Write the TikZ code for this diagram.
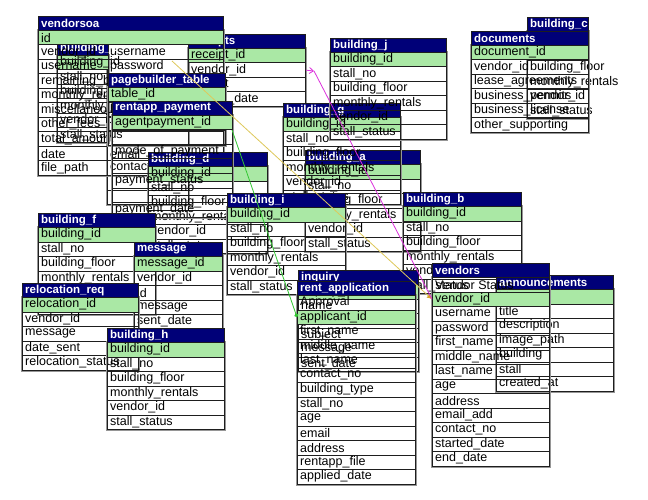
\documentclass[tikz,border=0pt]{standalone}
\usepackage{fontspec}
\setmainfont{Liberation Sans}
\usetikzlibrary{arrows.meta}
\definecolor{hdrblue}{RGB}{0,0,120}
\definecolor{pkgreen}{RGB}{170,232,165}
\definecolor{rowline}{RGB}{30,30,30}
\definecolor{edgegray}{RGB}{150,150,150}
\definecolor{linkyellow}{RGB}{222,200,90}
\definecolor{linkmag}{RGB}{220,50,220}
\definecolor{linkgreen}{RGB}{50,200,50}
\definecolor{tipgold}{RGB}{215,160,40}
\tikzset{
 hdrbox/.style={draw=rowline, fill=hdrblue, line width=0.8pt, minimum height=14pt, inner sep=0pt, anchor=north west, rectangle},
 pkbox/.style={draw=rowline, fill=pkgreen, line width=0.8pt, minimum height=14.5pt, inner sep=0pt, anchor=north west, rectangle},
 rowbox/.style={draw=rowline, line width=0.8pt, minimum height=14.5pt, inner sep=0pt, anchor=north west, rectangle},
 hdrtext/.style={text=white, font=\bfseries\fontsize{11.5}{12}\selectfont, inner sep=0pt, anchor=west},
 fldtext/.style={text=black, font=\fontsize{12.5}{13}\selectfont, inner sep=0pt, anchor=west},
 tableedge/.style={draw=edgegray, line width=0.8pt},
}
% #1 id, #2 title, #3 x, #4 y, #5 width, #6 fields, #7 index of key row
\newcommand\dbtab[7]{%
 \node[hdrbox, minimum width=#5pt] (#1) at (#3,#4) {};
 \node[hdrtext] (#1-t) at ([xshift=3pt]#1.west) {#2};
 \foreach \f [count=\i] in {#6} {%
   \pgfmathsetmacro\yy{#4+14+(\i-1)*14.5}%
   \ifnum\i=#7\relax
     \node[pkbox, minimum width=#5pt] (#1-\i) at (#3,\yy) {};
   \else
     \node[rowbox, minimum width=#5pt] (#1-\i) at (#3,\yy) {};
   \fi
   \node[fldtext] (#1-\i-t) at ([xshift=3pt]#1-\i.west) {\expandafter\detokenize\expandafter{\f}};
   \xdef\lastrow{\i}%
 }%
 \draw[tableedge] ([shift={(-1pt,1pt)}]#1-1.north west) -- ([shift={(-1pt,-1pt)}]#1-\lastrow.south west) -- ([shift={(1pt,-1pt)}]#1-\lastrow.south east) -- ([shift={(1pt,1pt)}]#1-1.north east);
}
\begin{document}
\begin{tikzpicture}[x=1pt,y=-1pt]
\useasboundingbox[fill=white] (0,0) rectangle (648,500);

\dbtab{bc}{building\_c}{527}{17}{61}{building_id,stall_no,building_floor,monthly_rentals,vendor_id,stall_status}{1}
\dbtab{doc}{documents}{471}{31}{117}{document_id,vendor_id,lease_agreements,business_permits,business_license,other_supporting}{1}
\dbtab{usr}{}{107}{16}{81}{id,username,password,first_name,middle_name,last_name,{},{},email,contact_no,{},{}}{1}
\dbtab{be}{building\_e}{57}{41}{51}{building_id,stall_no,building_floor,monthly_rentals,vendor_id,stall_status}{1}
\dbtab{rc}{receipts}{188}{34}{117}{receipt_id,vendor_id,receipt,issued_date}{1}
\dbtab{vsoa}{vendorsoa}{38}{16}{185}{id,vendor_id,username,remaining_balance,monthly_rentals,miscellaneous_fees,other_fees,total_amount,date,file_path}{1}
\dbtab{pg}{pagebuilder\_table}{108}{73}{117}{table_id,{},{},{}}{1}
\dbtab{bd}{building\_d}{148}{152}{119}{building_id,stall_no,building_floor,monthly_rentals,vendor_id,stall_status}{1}
\dbtab{rp}{rentapp\_payment}{112}{101}{120}{agentpayment_id,{},mode_of_payment,{},payment_status,{},payment_date}{1}
\dbtab{ba}{building\_a}{305}{150}{115}{building_id,stall_no,building_floor,monthly_rentals,vendor_id,stall_status}{1}
\dbtab{bg}{building\_g}{283}{103}{117}{building_id,stall_no,building_floor,monthly_rentals,vendor_id,stall_status}{1}
\dbtab{bj}{building\_j}{330}{38}{116}{building_id,stall_no,building_floor,monthly_rentals,vendor_id,stall_status}{1}
\dbtab{bi}{building\_i}{227}{193}{118}{building_id,stall_no,building_floor,monthly_rentals,vendor_id,stall_status}{1}
\dbtab{bb}{building\_b}{403}{192}{118}{building_id,stall_no,building_floor,monthly_rentals,vendor_id,stall_status}{1}
\dbtab{bf}{building\_f}{38}{213}{117}{building_id,stall_no,building_floor,monthly_rentals,vendor_id,stall_status}{1}
\dbtab{msg}{message}{134}{242}{88}{message_id,vendor_id,id,message,sent_date}{1}
\dbtab{rr}{relocation\_req}{22}{283}{116}{relocation_id,vendor_id,message,date_sent,relocation_status}{1}
\dbtab{bh}{building\_h}{107}{328}{117}{building_id,stall_no,building_floor,monthly_rentals,vendor_id,stall_status}{1}
\dbtab{inq}{inquiry}{298}{270}{120}{inquiry_id,name,email,subject,message,sent_date}{1}
\dbtab{ra}{rent\_application}{297}{281}{118}{Approval,applicant_id,first_name,middle_name,last_name,contact_no,building_type,stall_no,age,email,address,rentapp_file,applied_date}{2}
\dbtab{ann}{announcements}{496}{275}{117}{id,title,description,image_path,building,stall,created_at}{1}
\dbtab{ven}{vendors}{432}{263}{117}{Vendor Status,vendor_id,username,password,first_name,middle_name,last_name,age,address,email_add,contact_no,started_date,end_date}{2}

% connectors
\coordinate (ylw-start) at (172,61);
\draw[linkyellow, line width=0.8pt, -{Latex[length=5pt,width=5pt,color=tipgold]}] (ylw-start) -- (ven-2.west);
\coordinate (mag-knee) at (314,71);
\draw[linkmag, line width=0.8pt] (ven-2.west) -- (mag-knee);
\draw[linkmag, line width=0.8pt, -{Straight Barb[length=4pt,width=6pt]}] (rc-2.east) -- (mag-knee);
\coordinate (grn-start) at (232,130);
\draw[linkgreen, line width=0.8pt, -{Circle[length=4pt]}] (grn-start) -- (ra-2.west);
\end{tikzpicture}
\end{document}
